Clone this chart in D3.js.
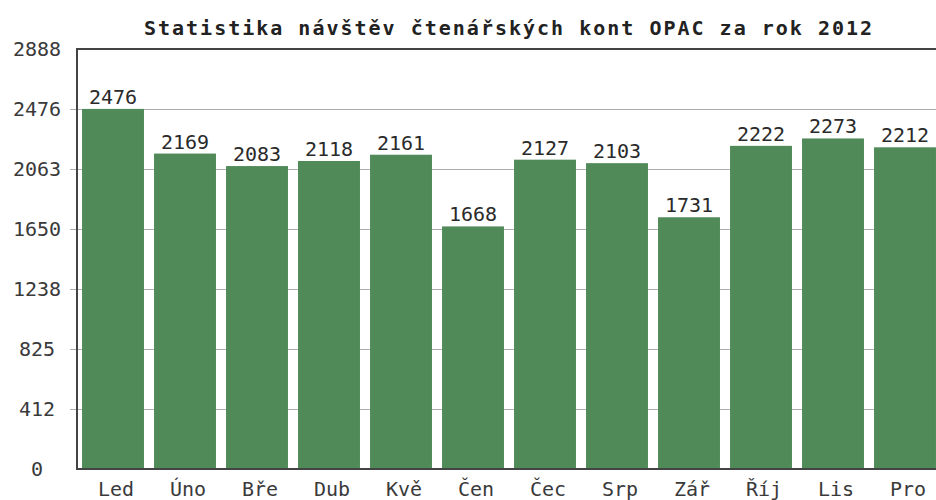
<!DOCTYPE html>
<html>
<head>
<meta charset="utf-8">
<script src="https://cdn.jsdelivr.net/npm/d3@7"></script>
<style>
  body { margin: 0; background: #fff; }
  text { font-family: "DejaVu Sans Mono", monospace; }
</style>
</head>
<body>
<div id="chart"></div>
<script>
var months = ["Led", "Úno", "Bře", "Dub", "Kvě", "Čen", "Čec", "Srp", "Zář", "Říj", "Lis", "Pro"];
var visits = [2476, 2169, 2083, 2118, 2161, 1668, 2127, 2103, 1731, 2222, 2273, 2212];
var yTicks = [0, 412, 825, 1238, 1650, 2063, 2476, 2888];
var title = "Statistika návštěv čtenářských kont OPAC za rok 2012";

var width = 936, height = 500;
var plotLeft = 77, plotTop = 49, plotBottom = 469, plotRight = 941;

var svg = d3.select("#chart").append("svg")
            .attr("width", width)
            .attr("height", height);

var x = d3.scaleBand()
          .domain(months)
          .range([plotLeft, plotRight])
          .paddingInner(0.14)
          .paddingOuter(0.07);

var y = d3.scaleLinear()
          .domain([0, 2888])
          .range([plotBottom, plotTop]);

// gridlines + little tick marks left of the axis
svg.append("g")
   .selectAll("line")
   .data(yTicks.slice(1, -1))
   .enter()
   .append("line")
   .attr("x1", plotLeft - 7)
   .attr("x2", width)
   .attr("y1", function (d) { return Math.round(y(d)) + 0.5; })
   .attr("y2", function (d) { return Math.round(y(d)) + 0.5; })
   .style("stroke", "#adadad")
   .style("stroke-width", 1);

// y labels, centered in the left margin
svg.append("g")
   .selectAll("text")
   .data(yTicks)
   .enter()
   .append("text")
   .attr("x", 37)
   .attr("y", function (d) { return y(d); })
   .attr("dy", "0.36em")
   .attr("text-anchor", "middle")
   .style("font-size", "20px")
   .style("fill", "#3a3a3a")
   .text(function (d) { return d; });

var bars = svg.append("g")
              .selectAll("rect")
              .data(visits)
              .enter()
              .append("rect")
              .attr("x", function (d, i) { return x(months[i]); })
              .attr("y", function (d) { return y(d); })
              .attr("width", x.bandwidth())
              .attr("height", function (d) { return plotBottom - y(d); })
              .style("fill", "#4f8a58");

svg.append("g")
   .selectAll("text")
   .data(visits)
   .enter()
   .append("text")
   .attr("x", function (d, i) { return x(months[i]) + x.bandwidth() / 2; })
   .attr("y", function (d) { return y(d) - 5; })
   .attr("text-anchor", "middle")
   .style("font-size", "20px")
   .style("fill", "#2a2a2a")
   .text(function (d) { return d; });

// frame: left, bottom, top
svg.append("path")
   .attr("d", "M" + width + "," + plotTop + "H" + plotLeft + "V" + plotBottom + "H" + width)
   .style("fill", "none")
   .style("stroke", "#444")
   .style("stroke-width", 2);

svg.append("g")
   .selectAll("text")
   .data(months)
   .enter()
   .append("text")
   .attr("x", function (d) { return x(d) + x.bandwidth() / 2 + 3; })
   .attr("y", 496)
   .attr("text-anchor", "middle")
   .style("font-size", "20px")
   .style("fill", "#3a3a3a")
   .text(function (d) { return d; });

svg.append("text")
   .attr("x", 509)
   .attr("y", 35)
   .attr("text-anchor", "middle")
   .style("font-size", "20px")
   .style("font-weight", "bold")
   .style("letter-spacing", "2px")
   .style("fill", "#222")
   .text(title);
</script>
</body>
</html>
